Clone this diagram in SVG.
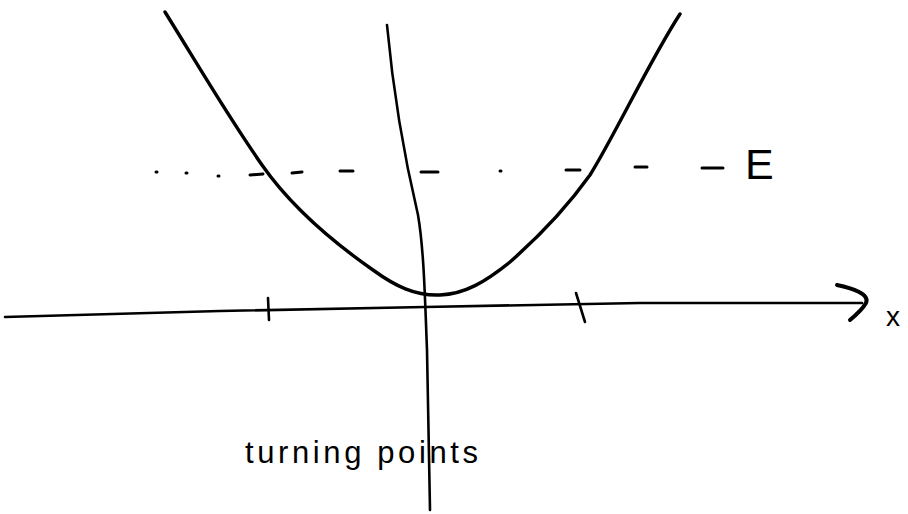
<svg xmlns="http://www.w3.org/2000/svg" width="908" height="514" viewBox="0 0 908 514">
<style>
.ink{fill:none;stroke:#000;stroke-linecap:round;stroke-linejoin:round}
.axis{stroke-width:2.6}
.curve{stroke-width:3.4}
.dash{stroke-width:3}
.hand{font-family:"Liberation Sans","DejaVu Sans",sans-serif;fill:#000}
</style>
<rect width="908" height="514" fill="#fff"/>
<g id="axes">
<path class="ink axis" d="M5,317 L220,311 L425,307 L640,303 L862,303"/>
<path class="ink" stroke-width="4" d="M837,285 C852,288 870,294 866,303 C862,310 856,315 850,320"/>
<path class="ink axis" d="M387,25 C393,90 405,160 418,215 C424,250 425,300 427,350 L430,510"/>
<path class="ink axis" d="M268,298 L269,320"/>
<path class="ink axis" d="M576,293 L585,322"/>
</g>
<g id="energy-level">
<g class="ink dash">
<path d="M156,172 L157,172"/>
<path d="M186,173 L187,173"/>
<path d="M218,176 L219,176"/>
<path d="M250,175 L263,174"/>
<path d="M292,173 L302,172"/>
<path d="M340,171 L353,171"/>
<path d="M421,172 L438,172"/>
<path d="M500,171 L501,171"/>
<path d="M566,170 L580,170"/>
<path d="M635,167 L647,167"/>
<path d="M702,168 L723,168"/>
</g>
<text class="hand" x="745" y="179" font-size="43">E</text>
</g>
<g id="potential">
<path class="ink curve" d="M165,12 C195,60 225,112 262,165 C290,205 330,240 373,270 C395,286 415,296 440,295 C465,294 485,282 510,262 C535,240 565,210 590,175 C615,135 650,60 680,14"/>
</g>
<g id="labels">
<text class="hand" x="245" y="463" font-size="31" textLength="233" lengthAdjust="spacing">turning points</text>
<text class="hand" x="886" y="326" font-size="28">x</text>
</g>
</svg>
